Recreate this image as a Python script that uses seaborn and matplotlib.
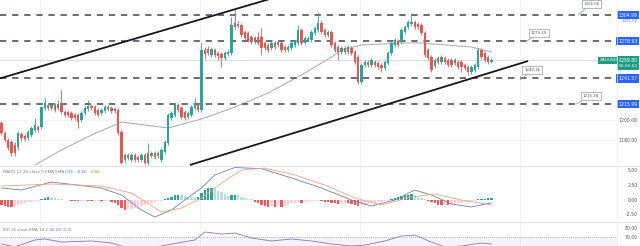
import numpy as np
import matplotlib
matplotlib.use("Agg")
import matplotlib.pyplot as plt
from matplotlib.lines import Line2D
from matplotlib.transforms import blended_transform_factory as blend
import seaborn as sns

# ---- price candles (open, high, low, close) ----
opens = [1197, 1187, 1180, 1178, 1175, 1173, 1186, 1184, 1182, 1185, 1190, 1193, 1193, 1212, 1215, 1212,
         1215, 1212, 1217, 1208, 1208, 1207, 1205, 1205, 1200, 1207, 1211, 1214, 1213, 1210, 1207, 1209,
         1211, 1212, 1211, 1210, 1188, 1160, 1165, 1160, 1165, 1163, 1160, 1165, 1157, 1167, 1163, 1167,
         1160, 1168, 1177, 1202, 1205, 1215, 1212, 1208, 1203, 1205, 1212, 1215, 1210, 1270, 1271, 1265,
         1270, 1267, 1266, 1262, 1266, 1267, 1297, 1294, 1295, 1288, 1287, 1283, 1278, 1283, 1283, 1277,
         1275, 1272, 1277, 1275, 1277, 1273, 1270, 1272, 1275, 1277, 1290, 1277, 1280, 1280, 1287, 1290,
         1297, 1290, 1285, 1288, 1277, 1273, 1268, 1272, 1268, 1272, 1268, 1263, 1238, 1255, 1258, 1255,
         1258, 1257, 1255, 1252, 1257, 1267, 1275, 1279, 1278, 1288, 1293, 1296, 1298, 1296, 1295, 1287,
         1270, 1263, 1254, 1262, 1258, 1262, 1260, 1260, 1257, 1258, 1258, 1255, 1253, 1248, 1250, 1253,
         1270, 1267, 1263, 1258.5]
highs = [1199, 1189, 1182, 1180, 1178, 1189, 1188, 1186, 1190, 1194, 1202, 1195, 1214, 1222, 1217, 1217,
         1217, 1220, 1230, 1210, 1210, 1209, 1207, 1207, 1209, 1214, 1220, 1216, 1215, 1212, 1212, 1215,
         1215, 1214, 1213, 1212, 1190, 1167, 1167, 1167, 1167, 1165, 1167, 1167, 1177, 1169, 1169, 1169,
         1172, 1180, 1207, 1209, 1217, 1217, 1214, 1210, 1209, 1215, 1222, 1217, 1278, 1273, 1274, 1273,
         1272, 1269, 1268, 1269, 1270, 1303, 1310, 1299, 1297, 1290, 1289, 1285, 1284, 1288, 1292, 1279,
         1277, 1279, 1279, 1280, 1279, 1275, 1275, 1279, 1280, 1295, 1292, 1284, 1284, 1290, 1294, 1308,
         1299, 1292, 1290, 1290, 1279, 1275, 1274, 1274, 1275, 1274, 1270, 1265, 1257, 1260, 1260, 1262,
         1260, 1259, 1257, 1260, 1269, 1279, 1282, 1281, 1292, 1295, 1300, 1307, 1300, 1298, 1297, 1289,
         1272, 1265, 1262, 1264, 1265, 1264, 1262, 1262, 1262, 1260, 1260, 1257, 1255, 1255, 1257, 1272,
         1272, 1269, 1265, 1262]
lows = [1185, 1178, 1170, 1164, 1164, 1170, 1179, 1179, 1180, 1183, 1188, 1188, 1191, 1210, 1210, 1210,
        1208, 1210, 1206, 1203, 1203, 1200, 1200, 1192, 1198, 1205, 1209, 1210, 1205, 1203, 1205, 1207,
        1209, 1207, 1207, 1185, 1156, 1157, 1160, 1158, 1158, 1158, 1158, 1155, 1155, 1162, 1161, 1162,
        1158, 1166, 1175, 1200, 1203, 1208, 1201, 1200, 1201, 1203, 1210, 1208, 1208, 1261, 1265, 1263,
        1263, 1260, 1253, 1260, 1264, 1265, 1291, 1292, 1283, 1280, 1278, 1276, 1276, 1275, 1265, 1270,
        1268, 1270, 1271, 1273, 1268, 1268, 1268, 1270, 1273, 1275, 1275, 1275, 1278, 1278, 1285, 1288,
        1286, 1283, 1283, 1273, 1268, 1260, 1266, 1266, 1266, 1265, 1256, 1236, 1236, 1253, 1253, 1253,
        1253, 1251, 1248, 1250, 1255, 1265, 1273, 1273, 1276, 1286, 1291, 1294, 1291, 1291, 1285, 1263,
        1260, 1248, 1252, 1256, 1256, 1256, 1253, 1253, 1255, 1251, 1248, 1250, 1246, 1246, 1248, 1251,
        1261, 1258, 1256, 1257]
closes = [1187, 1180, 1172, 1167, 1167, 1187, 1182, 1181, 1188, 1192, 1195, 1190, 1213, 1217, 1212, 1215,
          1210, 1216, 1208, 1205, 1205, 1202, 1202, 1198, 1207, 1212, 1214, 1212, 1207, 1205, 1210, 1213,
          1213, 1209, 1209, 1187, 1157, 1165, 1162, 1165, 1160, 1160, 1165, 1157, 1167, 1164, 1167, 1164,
          1170, 1178, 1205, 1207, 1215, 1210, 1203, 1202, 1207, 1213, 1217, 1210, 1270, 1266, 1267, 1271,
          1265, 1264, 1262, 1267, 1268, 1295, 1293, 1296, 1285, 1282, 1280, 1278, 1282, 1277, 1272, 1272,
          1270, 1277, 1273, 1278, 1270, 1270, 1273, 1277, 1278, 1290, 1277, 1282, 1282, 1288, 1292, 1297,
          1288, 1285, 1288, 1275, 1270, 1268, 1272, 1268, 1273, 1267, 1258, 1238, 1255, 1258, 1255, 1260,
          1255, 1253, 1252, 1258, 1267, 1277, 1280, 1275, 1290, 1293, 1298, 1298, 1293, 1293, 1287, 1265,
          1262, 1250, 1260, 1258, 1263, 1258, 1255, 1255, 1260, 1253, 1253, 1252, 1248, 1253, 1255, 1270,
          1263, 1260, 1258, 1259.8]

# moving average (sampled)
ma_idx = [10, 18, 27, 36, 43, 50, 60, 70, 80, 90, 99, 102, 108, 120, 126, 141, 147]
ma_val = [1155, 1170, 1185, 1198, 1195, 1192, 1201, 1213, 1227, 1245, 1263, 1270, 1275, 1277, 1277, 1273, 1268]

# channel trendlines
upper_x = [-0.45, 81]
upper_y = [1241.6, 1321.5]
lower_x = [56.5, 158]
lower_y = [1155, 1259]

# horizontal levels
levels = [1304.99, 1278.93, 1241.57, 1215.99]
last_price = 1259.80
callouts = ["1306.06", "1279.29", "1240.76", "1216.38"]
callout_pts = [(173, 1305), (157.1, 1278), (155.6, 1240), (172.4, 1216)]
callout_box = [(176.9, 1316), (161.3, 1287), (159.2, 1250), (176.9, 1224)]
price_ticks = [1200, 1180]

# MACD histogram
hist = [-0.8, -1.0, -1.2, -1.25, -1.1,
        -0.9, -0.7, -0.5, -0.4, -0.3, -0.2, -0.1,
        0.2, 0.35, 0.45, 0.4, 0.3,
        0.2, 0.1, 0.05, -0.05, -0.1, -0.15,
        -0.2, -0.15, -0.1, -0.15, -0.25, -0.2, -0.15, -0.25, -0.2, -0.15, -0.3,
        -0.5, -0.9, -1.4, -1.7, -1.6,
        -1.5, -1.3, -1.1, -0.95, -0.8, -0.6, -0.45, -0.3, -0.2, -0.1,
        0.2, 0.4, 0.6, 0.8, 0.9,
        0.8, 0.7, 0.6, 0.5, 0.45, 0.6,
        1.2, 1.7, 2.0, 2.1,
        1.9, 1.6, 1.3, 1.0, 0.7,
        0.8, 0.9, 0.8,
        0.6, 0.4, 0.25, 0.1,
        -0.3, -0.6, -0.8, -1.0, -1.2, -1.1, -1.2,
        -1.1, -1.25, -1.0, -0.8, -0.6, -0.5, -0.4, -0.5,
        -0.4, -0.3, -0.25, -0.2, -0.15, -0.2, -0.3, -0.4,
        -0.5, -0.6, -0.65, -0.6, -0.5, -0.6,
        -0.75, -0.9, -1.0,
        -0.9, -0.8, -0.7, -0.6, -0.5, -0.4, -0.3, -0.2, -0.1,
        0.2, 0.4, 0.5, 0.7, 0.8, 0.9, 1.0,
        0.8, 0.6, 0.4, 0.2,
        -0.2, -0.4, -0.6, -0.8, -0.9, -0.8, -0.9,
        -0.8, -0.7, -0.6, -0.5, -0.4, -0.3, -0.2, -0.1,
        0.1, 0.2, 0.25, 0.3, 0.36]
macd_idx = [0, 6, 15, 30, 36, 42, 46, 51, 57, 60, 64, 70, 78, 87, 96, 105, 111, 118, 124, 129, 135, 141, 147]
macd_val = [2.07, 1.72, 3.10, 2.07, 0.86, -1.72, -2.93, -1.72, 0.86, 2.07, 4.31, 5.6, 5.4, 3.8, 2.07,
            0.0, -1.03, 0.0, 1.72, 0.86, -0.69, -1.2, -0.5]
signal_idx = [0, 15, 30, 39, 48, 54, 60, 66, 72, 79, 88, 97, 106, 114, 123, 130, 138, 147]
signal_val = [2.41, 2.76, 2.41, 1.2, -2.07, -1.38, 0.34, 2.93, 5.17, 5.5, 4.31, 2.59, 0.34, -0.86, 0.52,
              1.03, 0.0, -0.86]
macd_ticks = [5.0, 2.5, 0.0, -2.5]

# RSI
rsi_idx = [0, 4, 10, 13, 18, 27, 33, 37, 45, 51, 58, 61, 66, 70, 75, 81, 87, 93, 99, 105, 109, 115,
           120, 124, 129, 133, 138, 144, 147]
rsi_val = [62.2, 59.0, 66.7, 67.8, 64.4, 65.6, 63.3, 58.9, 57.8, 62.2, 66.7, 75.6, 73.3, 74.4, 68.9,
           65.6, 67.8, 65.6, 62.2, 60.0, 61.0, 65.6, 71.1, 72.2, 64.4, 58.9, 60.0, 63.3, 62.2]
rsi_ticks = [80, 70]

# ---- style ----
sns.set_theme(style="white")
plt.rcParams['font.family'] = ['DejaVu Sans']

UP, DOWN = '#26a69a', '#ef5350'
AXIS_TXT = '#50535e'
W, H = 640, 246
PLOT_R = 617
SPACING = 3.333
SCALE_X = 637.5 / W  # right edge of price-scale texts

fig = plt.figure(figsize=(6.4, 2.46), dpi=100)
fig.patch.set_facecolor('white')


def pane(top, bottom):
    a = fig.add_axes([0, 1 - bottom / H, PLOT_R / W, (bottom - top) / H])
    a.set_facecolor('white')
    for s in a.spines.values():
        s.set_visible(False)
    a.set_xticks([])
    a.set_yticks([])
    a.set_xlim(-0.45, (PLOT_R - 1.5) / SPACING)
    return a


ax = pane(0, 166)
axm = pane(166, 222)
axr = pane(222, 246)
ax.set_ylim(1154, 1320)
axm.set_ylim(-3.79, 5.86)
axr.set_ylim(60, 86.7)

# faint grid
for a in (ax, axm, axr):
    for xp in (40, 200, 360, 520):
        a.axvline((xp - 1.5) / SPACING, color='#eef0f5', lw=0.6, zorder=0)
for p in price_ticks:
    ax.axhline(p, color='#eef0f5', lw=0.6, zorder=0)

# candles
idx = np.arange(len(closes))
o = np.array(opens, float)
c = np.array(closes, float)
hi = np.array(highs, float)
lo = np.array(lows, float)
cols = np.where(c >= o, UP, DOWN)
ax.vlines(idx, lo, hi, colors=cols, lw=0.6, zorder=3)
ax.bar(idx, np.maximum(np.abs(c - o), 0.4), bottom=np.minimum(o, c), width=0.72,
       color=cols, linewidth=0, zorder=4)

# moving average
sns.lineplot(x=ma_idx, y=ma_val, ax=ax, color='#a3a6af', linewidth=0.7, zorder=2)

# trendlines
ax.plot(upper_x, upper_y, color='#131722', lw=1.3, zorder=5, solid_capstyle='butt')
ax.plot(lower_x, lower_y, color='#131722', lw=1.3, zorder=5, solid_capstyle='butt')

# levels
for lv in levels:
    ax.axhline(lv, color='#5d606b', lw=1.3, ls=(0, (3.5, 3.2)), zorder=2)
ax.axhline(last_price, color='#c9ccd6', lw=0.5, zorder=1)

# callout labels
for txt, pt, bx in zip(callouts, callout_pts, callout_box):
    ax.annotate(txt, xy=pt, xytext=bx, fontsize=2.8, color=AXIS_TXT, ha='center', va='center',
                bbox=dict(boxstyle='square,pad=0.4', fc='white', ec='#9598a1', lw=0.5),
                arrowprops=dict(arrowstyle='-', color='#9598a1', lw=0.6, shrinkA=0, shrinkB=0),
                zorder=6)

# price scale
tr = blend(fig.transFigure, ax.transData)
for lv in levels:
    ax.text(SCALE_X, lv, f"{lv:.2f}", transform=tr, fontsize=3.3, color='white', ha='right',
            va='center', clip_on=False,
            bbox=dict(boxstyle='square,pad=0.4', fc='#2962ff', ec='none'))
ax.text(SCALE_X, 1299.5, "1305.00", transform=tr, fontsize=2.8, color='#7a7e8a', ha='right',
        va='center', clip_on=False)
for p in price_ticks:
    ax.text(SCALE_X, p, f"{p:.2f}", transform=tr, fontsize=3.3, color=AXIS_TXT, ha='right',
            va='center', clip_on=False)
ax.text(599.5 / W, last_price, "XAUUSD", transform=tr, fontsize=3.1, color='white', ha='left',
        va='center', clip_on=False, zorder=7,
        bbox=dict(boxstyle='square,pad=0.35', fc='#1e9d84', ec='none'))
ax.text(SCALE_X, last_price, f"{last_price:.2f}", transform=tr, fontsize=3.3, color='white',
        ha='right', va='center', clip_on=False, zorder=7,
        bbox=dict(boxstyle='square,pad=0.4', fc='#1e9d84', ec='none'))
ax.text(SCALE_X, last_price - 6, "01:50:53", transform=tr, fontsize=3.1, color='white',
        ha='right', va='center', clip_on=False, zorder=7,
        bbox=dict(boxstyle='square,pad=0.4', fc='#1e9d84', ec='none'))

# MACD pane
hcols = []
for k, h in enumerate(hist):
    prev = hist[k - 1] if k > 0 else 0.0
    if h >= 0:
        hcols.append('#26a69a' if h >= prev else '#b2dfdb')
    else:
        hcols.append('#ff5252' if h <= prev else '#ffcdd2')
axm.bar(idx, hist, width=0.72, color=hcols, linewidth=0, zorder=2)
sns.lineplot(x=macd_idx, y=macd_val, ax=axm, color='#6b7db3', linewidth=0.6, zorder=3)
sns.lineplot(x=signal_idx, y=signal_val, ax=axm, color='#f2a27c', linewidth=0.6, zorder=3)
trm = blend(fig.transFigure, axm.transData)
for t in macd_ticks:
    axm.text(SCALE_X, t, f"{t:.2f}", transform=trm, fontsize=3.3, color=AXIS_TXT, ha='right',
             va='center', clip_on=False)
ty = 1 - (172 - 166) / 56
axm.text(3 / PLOT_R, ty, "MACD 12 26 close 9 EMA EMA", transform=axm.transAxes,
         fontsize=3.0, color='#787b86', ha='left', va='center')
axm.text(65 / PLOT_R, ty, f"{hist[-1]:.2f}", transform=axm.transAxes, fontsize=3.0,
         color='#26a69a', ha='left', va='center')
axm.text(77 / PLOT_R, ty, f"{macd_val[-1]:.2f}", transform=axm.transAxes, fontsize=3.0,
         color='#2962ff', ha='left', va='center')
axm.text(90 / PLOT_R, ty, f"{signal_val[-1]:.2f}", transform=axm.transAxes, fontsize=3.0,
         color='#ff6d00', ha='left', va='center')

# RSI pane
axr.axhspan(30, 70, color='#7e57c2', alpha=0.07, lw=0, zorder=0)
axr.axhline(70, color='#9598a1', lw=0.6, ls=(0, (1, 1.5)), zorder=1)
sns.lineplot(x=rsi_idx, y=rsi_val, ax=axr, color='#8a76b8', linewidth=0.6, zorder=3)
trr = blend(fig.transFigure, axr.transData)
for t in rsi_ticks:
    axr.text(SCALE_X, t, f"{t:.2f}", transform=trr, fontsize=3.3, color=AXIS_TXT, ha='right',
             va='center', clip_on=False)
ry = 1 - (230 - 222) / 24
axr.text(3 / PLOT_R, ry, "RSI 14 close SMA 14 2", transform=axr.transAxes, fontsize=3.0,
         color='#787b86', ha='left', va='center')
axr.text(50 / PLOT_R, ry, f"{rsi_val[-1]:.2f}", transform=axr.transAxes, fontsize=3.0,
         color='#7e57c2', ha='left', va='center')
axr.text(63 / PLOT_R, ry, "\u2205 \u2205", transform=axr.transAxes, fontsize=3.0,
         color='#787b86', ha='left', va='center')

for a in (ax, axm, axr):
    a.set_xlabel('')
    a.set_ylabel('')
    if a.get_legend():
        a.get_legend().remove()

# pane separators
for yp in (166, 222):
    fig.add_artist(Line2D([0, 1], [1 - yp / H] * 2, transform=fig.transFigure,
                          color='#e0e3eb', lw=0.7))
fig.add_artist(Line2D([PLOT_R / W] * 2, [0, 1], transform=fig.transFigure, color='#eceef3', lw=0.5))

fig.savefig('out.png', dpi=100, facecolor='white')
